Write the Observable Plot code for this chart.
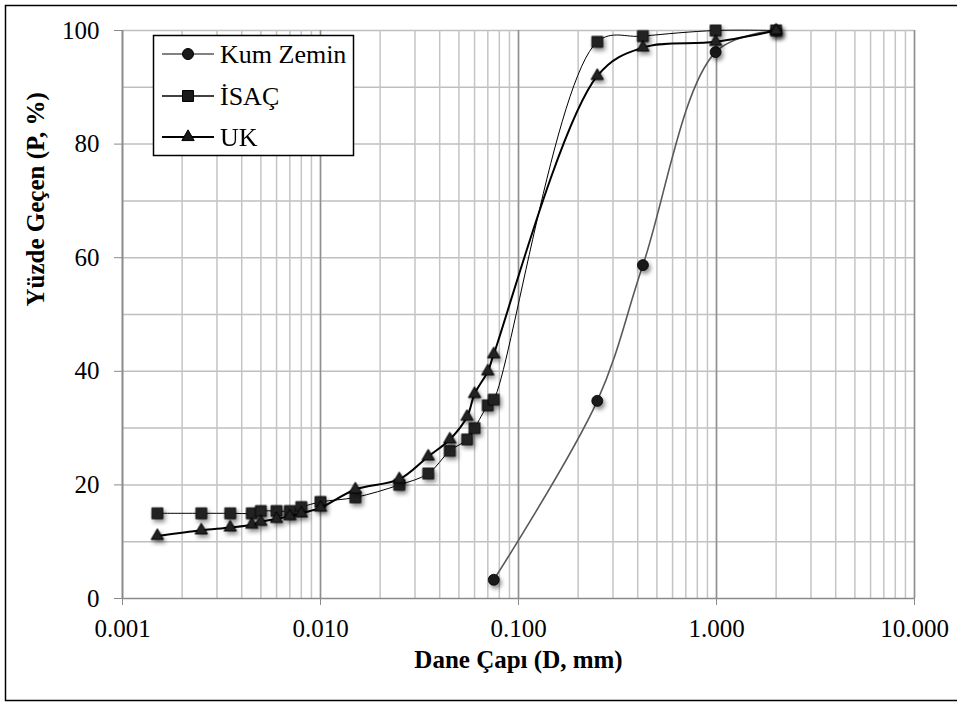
<!DOCTYPE html>
<html>
<head>
<meta charset="utf-8">
<script src="https://cdn.jsdelivr.net/npm/d3@7"></script>
<script src="https://cdn.jsdelivr.net/npm/@observablehq/plot@0.6"></script>
<style>
  html, body { margin: 0; padding: 0; background: #fff; }
  #chart { position: relative; width: 957px; height: 704px; }
</style>
</head>
<body>
<div id="chart"></div>
<script>
// ---- Data ----
const seriesNames = ["Kum Zemin", "İSAÇ", "UK"];

const kumSizes = [0.075, 0.25, 0.425, 0.99, 2.0];
const kumPassing = [3.3, 34.8, 58.7, 96.2, 100];

const fineSizes = [0.0015, 0.0025, 0.0035, 0.0045, 0.005, 0.006, 0.007, 0.008, 0.01, 0.015,
                   0.025, 0.035, 0.045, 0.055, 0.06, 0.07, 0.075, 0.25, 0.425, 0.99, 2.0];
const isacPassing = [15, 15, 15, 15, 15.4, 15.4, 15.4, 16.1, 17, 17.8,
                     20, 22, 26, 28, 30, 34, 35, 98, 99, 100, 100];
const ukPassing = [11, 12, 12.5, 13, 13.5, 14, 14.5, 15, 16, 19.2,
                   21, 25, 28, 32, 36, 40, 43, 92, 97, 98, 100];

const xTicks = [0.001, 0.01, 0.1, 1, 10];
const yTicks = [0, 20, 40, 60, 80, 100];
const xLabel = "Dane Çapı (D, mm)";
const yLabel = "Yüzde Geçen (P, %)";

// ---- Build tables ----
const kum = kumSizes.map((d, i) => ({x: d, y: kumPassing[i]}));
const isac = fineSizes.map((d, i) => ({x: d, y: isacPassing[i]}));
const uk = fineSizes.map((d, i) => ({x: d, y: ukPassing[i]}));

const xDomain = [xTicks[0], xTicks[xTicks.length - 1]];
const minorX = d3.scaleLog().domain(xDomain).ticks();
const minorY = d3.range(10, 101, 10);

const serif = "'Liberation Serif', 'Times New Roman', serif";
const styles = [
  {symbol: "circle", r: 5.5, stroke: "#595959", width: 1.6},
  {symbol: "square", r: 6.2, stroke: "#000", width: 1},
  {symbol: "triangle", r: 4.6, stroke: "#000", width: 2}
];

const chart = Plot.plot({
  width: 957,
  height: 704,
  marginLeft: 122,
  marginRight: 43,
  marginTop: 30,
  marginBottom: 106,
  style: {fontFamily: serif, fontSize: "25px", color: "#000", background: "#fff"},
  x: {type: "log", domain: xDomain},
  y: {domain: [0, 100]},
  marks: [
    Plot.gridY(minorY, {stroke: "#bfbfbf", strokeOpacity: 1, strokeWidth: 1.5}),
    Plot.gridX(minorX, {stroke: "#c4c4c4", strokeOpacity: 1, strokeWidth: 1.5}),
    Plot.gridX(xTicks, {stroke: "#8f8f8f", strokeOpacity: 1, strokeWidth: 1.5}),
    Plot.ruleY([0], {stroke: "#8a8a8a", strokeWidth: 1.5}),
    Plot.ruleX([xDomain[0]], {stroke: "#8a8a8a", strokeWidth: 1.5}),
    Plot.axisX({ticks: xTicks, tickFormat: d3.format(".3f"), tickSize: 7, tickPadding: 14,
                stroke: "#8a8a8a", fill: "#000", label: null, fontSize: 25}),
    Plot.axisY({ticks: yTicks, tickSize: 8, tickPadding: 15,
                stroke: "#8a8a8a", fill: "#000", label: null, fontSize: 25}),
    Plot.text([xLabel], {text: d => d, frameAnchor: "bottom", dy: 69, fontWeight: "bold", fontSize: 25}),
    Plot.text([yLabel], {text: d => d, frameAnchor: "left", dx: -87, dy: -8, rotate: -90, fontWeight: "bold", fontSize: 25}),
    // series lines
    Plot.line(kum, {x: "x", y: "y", curve: "catmull-rom", stroke: styles[0].stroke, strokeWidth: styles[0].width}),
    Plot.dot(kum, {x: "x", y: "y", symbol: styles[0].symbol, r: styles[0].r, fill: "#1a1a1a", stroke: "#000", strokeWidth: 0.8}),
    Plot.line(isac, {x: "x", y: "y", curve: "catmull-rom", stroke: styles[1].stroke, strokeWidth: styles[1].width}),
    Plot.dot(isac, {x: "x", y: "y", symbol: styles[1].symbol, r: styles[1].r, fill: "#222", stroke: "#000", strokeWidth: 0.8}),
    Plot.line(uk, {x: "x", y: "y", curve: "catmull-rom", stroke: styles[2].stroke, strokeWidth: styles[2].width}),
    Plot.dot(uk, {x: "x", y: "y", symbol: styles[2].symbol, r: styles[2].r, fill: "#222", stroke: "#000", strokeWidth: 1})
  ]
});

document.getElementById("chart").appendChild(chart);

const svg = d3.select(chart);
svg.selectAll("g[aria-label='dot']").style("filter", "drop-shadow(2px 3px 2px rgba(0,0,0,0.45))");

// ---- Legend ----
const lg = svg.append("g").attr("text-anchor", "start");
lg.append("rect").attr("x", 153.5).attr("y", 35.5).attr("width", 200).attr("height", 120)
  .attr("fill", "#fff").attr("stroke", "#000").attr("stroke-width", 1.5);
const rowsY = [54, 96, 137];
const symbolTypes = [d3.symbolCircle, d3.symbolSquare, d3.symbolTriangle];
seriesNames.forEach((name, i) => {
  const y = rowsY[i];
  lg.append("line").attr("x1", 162).attr("x2", 214).attr("y1", y).attr("y2", y)
    .attr("stroke", i === 0 ? "#595959" : "#000").attr("stroke-width", i === 2 ? 2 : 1.5);
  const r = styles[i].r;
  lg.append("path").attr("d", d3.symbol(symbolTypes[i], Math.PI * r * r)())
    .attr("transform", `translate(188,${y})`).attr("fill", "#1a1a1a").attr("stroke", "#000");
  lg.append("text").attr("x", 220).attr("y", y).attr("dy", "0.35em")
    .attr("text-anchor", "start")
    .attr("font-family", serif).attr("font-size", 26).attr("fill", "#000").text(name);
});

// ---- Chart area border ----
svg.append("rect").attr("x", 5.5).attr("y", 5.5).attr("width", 960).attr("height", 695)
  .attr("fill", "none").attr("stroke", "#000").attr("stroke-width", 1.5);
</script>
</body>
</html>
